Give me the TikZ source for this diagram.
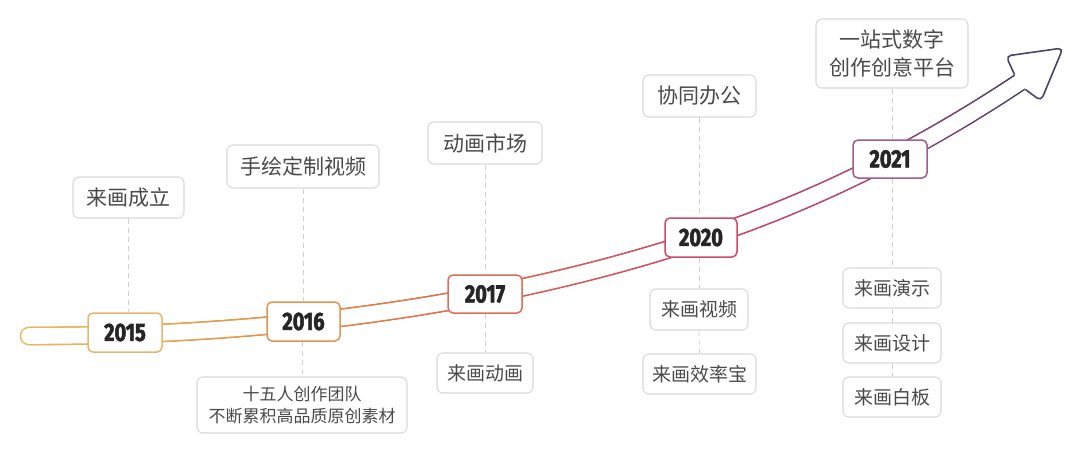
\documentclass[tikz,border=0pt]{standalone}
\usepackage{fontspec}
\setmainfont{Noto Sans CJK SC}
\newfontfamily\yearfont{Fira Sans}[FakeStretch=0.8,FakeBold=2.2]
\definecolor{cA}{HTML}{E9B863}
\definecolor{cB}{HTML}{E8AC55}
\definecolor{cC}{HTML}{E48C45}
\definecolor{cD}{HTML}{DF6650}
\definecolor{cE}{HTML}{CF4560}
\definecolor{cF}{HTML}{A24B7A}
\definecolor{cG}{HTML}{4D4366}
\definecolor{yAc}{HTML}{E6B66E}
\definecolor{yBc}{HTML}{E29450}
\definecolor{yCc}{HTML}{DE6D57}
\definecolor{yDc}{HTML}{C94B69}
\definecolor{yEc}{HTML}{A05D88}
\definecolor{lblgray}{HTML}{DADADA}
\definecolor{txtgray}{HTML}{4A4A4A}
\definecolor{yeartxt}{HTML}{262626}
\definecolor{guidegray}{HTML}{CFCFCF}
\newcommand\bandcol[1]{%
  \pgfmathsetmacro\bcd{#1}%
  \ifdim\bcd pt<125pt \pgfmathtruncatemacro\bcp{(\bcd-29)/96*100}\colorlet{sc}{cB!\bcp!cA}%
  \else\ifdim\bcd pt<304pt \pgfmathtruncatemacro\bcp{(\bcd-125)/179*100}\colorlet{sc}{cC!\bcp!cB}%
  \else\ifdim\bcd pt<485pt \pgfmathtruncatemacro\bcp{(\bcd-304)/181*100}\colorlet{sc}{cD!\bcp!cC}%
  \else\ifdim\bcd pt<701pt \pgfmathtruncatemacro\bcp{(\bcd-485)/216*100}\colorlet{sc}{cE!\bcp!cD}%
  \else\ifdim\bcd pt<890pt \pgfmathtruncatemacro\bcp{(\bcd-701)/189*100}\colorlet{sc}{cF!\bcp!cE}%
  \else \pgfmathtruncatemacro\bcp{min(100,(\bcd-890)/130*100)}\colorlet{sc}{cG!\bcp!cF}%
  \fi\fi\fi\fi\fi}
% gradient band piece along a cubic Bezier: #1..#8 = x0 y0 x1 y1 x2 y2 x3 y3
\newcommand\bandseg[8]{%
  \foreach \bk in {0,...,240} {%
    \pgfmathsetmacro\bt{\bk/240}%
    \pgfmathsetmacro\bu{1-\bt}%
    \pgfmathsetmacro\bx{\bu*\bu*\bu*#1+3*\bu*\bu*\bt*#3+3*\bu*\bt*\bt*#5+\bt*\bt*\bt*#7}%
    \pgfmathsetmacro\by{\bu*\bu*\bu*#2+3*\bu*\bu*\bt*#4+3*\bu*\bt*\bt*#6+\bt*\bt*\bt*#8}%
    \bandcol{\bx}%
    \fill[sc] (\bx,\by) circle[radius=9.4pt];
  }}
\begin{document}
\begin{tikzpicture}[x=1pt,y=-1pt,
  lbl/.style={draw=lblgray, line width=1.1pt, rounded corners=6pt, fill=white, text=txtgray,
    inner sep=0pt, align=center, font=\fontsize{21}{24}\selectfont},
  lblsm/.style={lbl, font=\fontsize{19}{22}\selectfont},
  ybox/.style={fill=white, rounded corners=5pt, line width=1.5pt, inner sep=0pt,
    minimum width=74pt, minimum height=39pt, text=yeartxt,
    font=\yearfont\bfseries\fontsize{25}{25}\selectfont},
  guide/.style={draw=guidegray, dash pattern=on 5pt off 4pt, line width=0.8pt}]
\useasboundingbox (0,0) rectangle (1080,450);
\fill[white] (0,0) rectangle (1080,450);

% labels
\node[lbl, minimum width=111pt, minimum height=41pt] (t15) at (128.5,197.5) {来画成立};
\node[lbl, minimum width=152pt, minimum height=43pt] (t16) at (303,166.5) {手绘定制视频};
\node[lbl, minimum width=210pt, minimum height=56pt, font=\fontsize{17}{22}\selectfont] (b16) at (302,405) {十五人创作团队\\不断累积高品质原创素材};
\node[lbl, minimum width=114pt, minimum height=42pt] (t17) at (485,143) {动画市场};
\node[lblsm, minimum width=96pt, minimum height=40pt] (b17) at (485,373) {来画动画};
\node[lbl, minimum width=113pt, minimum height=42pt] (t20) at (699.5,96) {协同办公};
\node[lblsm, minimum width=98pt, minimum height=41pt] (b20a) at (699,309.5) {来画视频};
\node[lblsm, minimum width=113pt, minimum height=40pt] (b20b) at (699.5,374) {来画效率宝};
\node[lbl, minimum width=152pt, minimum height=69pt, font=\fontsize{21}{28}\selectfont] (t21) at (892,53.5) {一站式数字\\创作创意平台};
\node[lblsm, minimum width=98pt, minimum height=40pt] (b21a) at (892,288) {来画演示};
\node[lblsm, minimum width=98pt, minimum height=40pt] (b21b) at (892,343) {来画设计};
\node[lblsm, minimum width=98pt, minimum height=40pt] (b21c) at (892,397) {来画白板};

% band (gradient outline)
\bandseg{29}{336}{133.7}{336}{238.3}{330.6}{343}{317.5}
\bandseg{343}{317.5}{462.3}{302.6}{581.7}{278.4}{701}{239}
\bandseg{701}{239}{807.3}{203.9}{913.7}{152.9}{1020}{82}
\draw[white, line width=15.6pt, line cap=round]
  (29,336) .. controls (133.7,336) and (238.3,330.6) .. (343,317.5)
  .. controls (462.3,302.6) and (581.7,278.4) .. (701,239)
  .. controls (807.3,203.9) and (913.7,152.9) .. (1020,82);
% arrow head
\coordinate (j1) at (1014.5,74.5);
\coordinate (hb1) at (1006,56);
\coordinate (htip) at (1063,48);
\coordinate (hb2) at (1041,101);
\coordinate (j2) at (1025.5,89.5);
\fill[white] (j1) -- (hb1) -- (htip) -- (hb2) -- (j2) -- cycle;
\draw[cG, line width=1.6pt, rounded corners=5pt, line join=round] (j1) -- (hb1) -- (htip) -- (hb2) -- (j2);

% year boxes
\node[ybox, draw=yAc] (y15) at (125,332.5) {2015};
\node[ybox, draw=yBc, minimum width=73pt] (y16) at (303.5,321.5) {2016};
\node[ybox, draw=yCc, minimum height=38pt] (y17) at (485,294) {2017};
\node[ybox, draw=yDc, minimum width=72pt] (y20) at (701,237.5) {2020};
\node[ybox, draw=yEc, minimum height=38pt] (y21) at (890,159) {2021};

% guides
\draw[guide] (t15.south) -- (t15.south |- y15.north);
\draw[guide] (t16.south) -- (t16.south |- y16.north);
\draw[guide] (b16.north |- y16.south) -- (b16.north);
\draw[guide] (t17.south) -- (t17.south |- y17.north);
\draw[guide] (b17.north |- y17.south) -- (b17.north);
\draw[guide] (t20.south) -- (t20.south |- y20.north);
\draw[guide] (b20a.north |- y20.south) -- (b20a.north);
\draw[guide] (b20a.south) -- (b20b.north);
\draw[guide] (t21.south) -- (t21.south |- y21.north);
\draw[guide] (b21a.north |- y21.south) -- (b21a.north);
\draw[guide] (b21a.south) -- (b21b.north);
\draw[guide] (b21b.south) -- (b21c.north);
\end{tikzpicture}
\end{document}
